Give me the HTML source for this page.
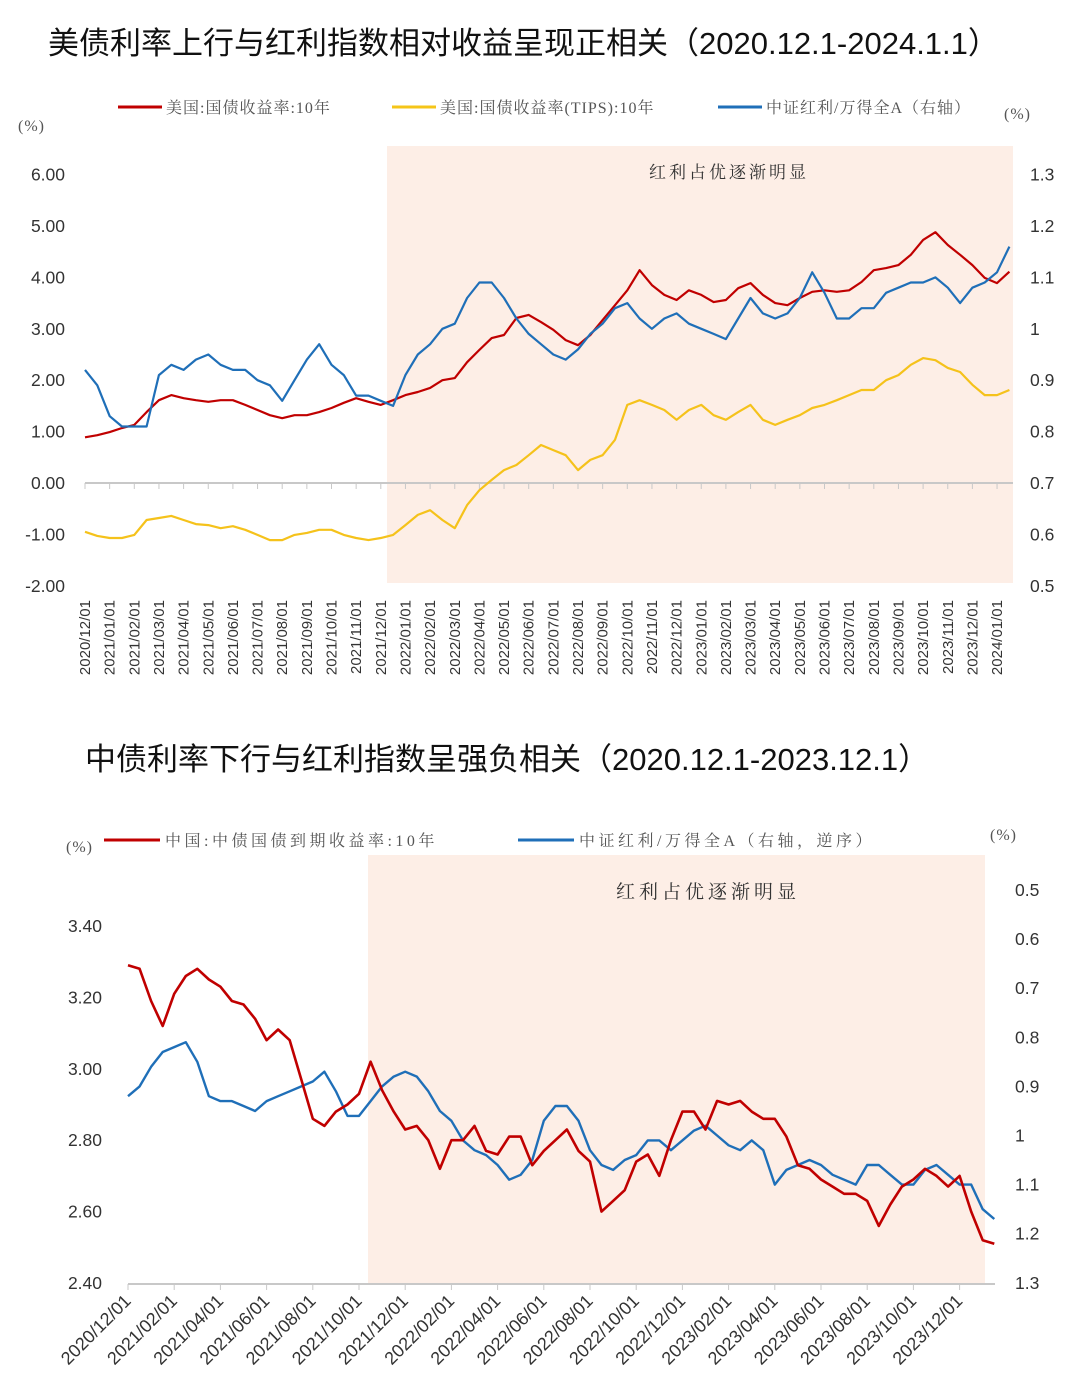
<!DOCTYPE html>
<html><head><meta charset="utf-8">
<style>
body{margin:0;background:#fff;}
svg{display:block;font-family:"Liberation Sans","Noto Sans CJK SC",sans-serif;}
.ax{font-size:17.5px;fill:#333;}
.lg{font-family:"Liberation Serif","Noto Serif CJK SC",serif;font-size:16px;fill:#555;letter-spacing:1px;}
.lg2{font-family:"Liberation Serif","Noto Serif CJK SC",serif;font-size:16px;fill:#555;letter-spacing:3.5px;}
.ann{font-family:"Liberation Serif","Noto Serif CJK SC",serif;font-size:17px;fill:#333;letter-spacing:3px;}
</style></head>
<body>
<svg id="s" width="1080" height="1388" viewBox="0 0 1080 1388">
<text x="48" y="54" font-size="31" fill="#111">美债利率上行与红利指数相对收益呈现正相关（2020.12.1-2024.1.1）</text>
<rect x="387" y="146" width="626" height="437" fill="#fdeee6"/>
<text x="729" y="178" text-anchor="middle" class="ann">红利占优逐渐明显</text>
<g>
<line x1="118" y1="107" x2="162" y2="107" stroke="#c00000" stroke-width="3"/>
<text x="166" y="113" class="lg">美国:国债收益率:10年</text>
<line x1="392" y1="107" x2="436" y2="107" stroke="#f5c518" stroke-width="3"/>
<text x="440" y="113" class="lg">美国:国债收益率(TIPS):10年</text>
<line x1="718" y1="107" x2="762" y2="107" stroke="#1f6fb8" stroke-width="3"/>
<text x="766" y="113" class="lg">中证红利/万得全A（右轴）</text>
</g>
<text x="18" y="131" class="lg">(%)</text>
<text x="1004" y="119" class="lg">(%)</text>
<g id="c1"></g>

<text x="85" y="770" font-size="31" fill="#111">中债利率下行与红利指数呈强负相关（2020.12.1-2023.12.1）</text>
<rect x="368" y="855" width="617" height="428" fill="#fdeee6"/>
<text x="708" y="898" text-anchor="middle" class="ann" font-size="19" style="font-size:19px;letter-spacing:4px">红利占优逐渐明显</text>
<g>
<text x="66" y="852" class="lg">(%)</text>
<line x1="104" y1="840" x2="160" y2="840" stroke="#c00000" stroke-width="3"/>
<text x="165" y="846" class="lg2">中国:中债国债到期收益率:10年</text>
<line x1="518" y1="840" x2="574" y2="840" stroke="#1f6fb8" stroke-width="3"/>
<text x="579" y="846" class="lg2">中证红利/万得全A（右轴，逆序）</text>
<text x="990" y="840" class="lg">(%)</text>
</g>
<g id="c2"></g>
</svg>
<script>
// ---- Chart 1 data (half-month steps from 2020/12/01) ----
const c1Months = ["2020/12/01","2021/01/01","2021/02/01","2021/03/01","2021/04/01","2021/05/01","2021/06/01","2021/07/01","2021/08/01","2021/09/01","2021/10/01","2021/11/01","2021/12/01","2022/01/01","2022/02/01","2022/03/01","2022/04/01","2022/05/01","2022/06/01","2022/07/01","2022/08/01","2022/09/01","2022/10/01","2022/11/01","2022/12/01","2023/01/01","2023/02/01","2023/03/01","2023/04/01","2023/05/01","2023/06/01","2023/07/01","2023/08/01","2023/09/01","2023/10/01","2023/11/01","2023/12/01","2024/01/01"];
const c1LeftTicks = ["6.00","5.00","4.00","3.00","2.00","1.00","0.00","-1.00","-2.00"];
const c1RightTicks = ["1.3","1.2","1.1","1","0.9","0.8","0.7","0.6","0.5"];
const usYield = [0.89,0.93,0.99,1.07,1.13,1.38,1.61,1.71,1.65,1.61,1.58,1.61,1.61,1.52,1.42,1.32,1.26,1.32,1.32,1.38,1.46,1.56,1.65,1.58,1.52,1.61,1.71,1.77,1.85,2.00,2.04,2.35,2.59,2.82,2.88,3.21,3.27,3.13,2.98,2.78,2.68,2.88,3.17,3.46,3.75,4.14,3.85,3.66,3.56,3.75,3.66,3.52,3.56,3.79,3.89,3.66,3.50,3.46,3.60,3.72,3.75,3.72,3.75,3.91,4.14,4.18,4.24,4.44,4.73,4.88,4.63,4.44,4.24,3.99,3.89,4.11];
const usTips = [-0.95,-1.03,-1.07,-1.07,-1.01,-0.72,-0.68,-0.64,-0.72,-0.80,-0.82,-0.88,-0.84,-0.91,-1.01,-1.11,-1.11,-1.01,-0.97,-0.91,-0.91,-1.01,-1.07,-1.11,-1.07,-1.01,-0.82,-0.62,-0.53,-0.72,-0.88,-0.43,-0.14,0.06,0.25,0.35,0.54,0.74,0.64,0.54,0.25,0.45,0.54,0.84,1.52,1.61,1.52,1.42,1.23,1.42,1.52,1.32,1.23,1.38,1.52,1.23,1.13,1.23,1.32,1.46,1.52,1.61,1.71,1.81,1.81,2.00,2.10,2.30,2.43,2.39,2.24,2.16,1.91,1.71,1.71,1.81];
const divRatio1 = [0.92,0.89,0.83,0.81,0.81,0.81,0.91,0.93,0.92,0.94,0.95,0.93,0.92,0.92,0.90,0.89,0.86,0.90,0.94,0.97,0.93,0.91,0.87,0.87,0.86,0.85,0.91,0.95,0.97,1.00,1.01,1.06,1.09,1.09,1.06,1.02,0.99,0.97,0.95,0.94,0.96,0.99,1.01,1.04,1.05,1.02,1.00,1.02,1.03,1.01,1.00,0.99,0.98,1.02,1.06,1.03,1.02,1.03,1.06,1.11,1.07,1.02,1.02,1.04,1.04,1.07,1.08,1.09,1.09,1.10,1.08,1.05,1.08,1.09,1.11,1.16];

// ---- Chart 2 data ----
const c2Months = ["2020/12/01","2021/02/01","2021/04/01","2021/06/01","2021/08/01","2021/10/01","2021/12/01","2022/02/01","2022/04/01","2022/06/01","2022/08/01","2022/10/01","2022/12/01","2023/02/01","2023/04/01","2023/06/01","2023/08/01","2023/10/01","2023/12/01"];
const c2LeftTicks = ["3.40","3.20","3.00","2.80","2.60","2.40"];
const c2RightTicks = ["0.5","0.6","0.7","0.8","0.9","1","1.1","1.2","1.3"];
const cnYield = [3.29,3.28,3.19,3.12,3.21,3.26,3.28,3.25,3.23,3.19,3.18,3.14,3.08,3.11,3.08,2.97,2.86,2.84,2.88,2.90,2.93,3.02,2.94,2.88,2.83,2.84,2.80,2.72,2.80,2.80,2.84,2.77,2.76,2.81,2.81,2.73,2.77,2.80,2.83,2.77,2.74,2.60,2.63,2.66,2.74,2.76,2.70,2.80,2.88,2.88,2.83,2.91,2.90,2.91,2.88,2.86,2.86,2.81,2.73,2.72,2.69,2.67,2.65,2.65,2.63,2.56,2.62,2.67,2.69,2.72,2.70,2.67,2.70,2.60,2.52,2.51];
const divRatio2 = [0.92,0.90,0.86,0.83,0.82,0.81,0.85,0.92,0.93,0.93,0.94,0.95,0.93,0.92,0.91,0.90,0.89,0.87,0.91,0.96,0.96,0.93,0.90,0.88,0.87,0.88,0.91,0.95,0.97,1.01,1.03,1.04,1.06,1.09,1.08,1.05,0.97,0.94,0.94,0.97,1.03,1.06,1.07,1.05,1.04,1.01,1.01,1.03,1.01,0.99,0.98,1.00,1.02,1.03,1.01,1.03,1.10,1.07,1.06,1.05,1.06,1.08,1.09,1.10,1.06,1.06,1.08,1.10,1.10,1.07,1.06,1.08,1.10,1.10,1.15,1.17];

const NS = "http://www.w3.org/2000/svg";
function mk(parent, tag, attrs){const e=document.createElementNS(NS,tag);for(const k in attrs)e.setAttribute(k,attrs[k]);parent.appendChild(e);return e;}

// Chart 1 scales
const x1 = m => 85 + m*24.65;
const yL1 = v => 483 - v*51.4;
const yR1 = v => 483 - (v-0.7)*514;
const g1 = document.getElementById('c1');
c1LeftTicks.forEach((t,i)=>{const v=parseFloat(t);const e=mk(g1,'text',{x:65,y:yL1(v)+6,'text-anchor':'end',class:'ax'});e.textContent=t;

});
c1RightTicks.forEach((t,i)=>{const v=parseFloat(t);const e=mk(g1,'text',{x:1030,y:yR1(v)+6,class:'ax'});e.textContent=t;

});
const ax1=mk(g1,'line',{x1:85,x2:1013,y1:yL1(0),y2:yL1(0),stroke:'#c8c8c8','stroke-width':2});


c1Months.forEach((t,i)=>{
 const tk=mk(g1,'line',{x1:x1(i),x2:x1(i),y1:483,y2:489,stroke:'#c8c8c8','stroke-width':1});
 
 
 const e=mk(g1,'text',{x:0,y:0,'text-anchor':'end','font-size':'15',fill:'#333',transform:`translate(${x1(i)+5},600) rotate(-90)`});
 e.textContent=t;
 
 
});
function line(g, arr, xf, yf, color, name, w){
 const d=arr.map((v,i)=>(i?'L':'M')+xf(i*0.5).toFixed(1)+','+yf(v).toFixed(1)).join('');
 const p=mk(g,'path',{d:d,fill:'none',stroke:color,'stroke-width':w||2.2,'stroke-linejoin':'round'});
 
 
}
line(g1, usTips, x1, yL1, '#f5c21b', 'line-us-tips');
line(g1, usYield, x1, yL1, '#c00000', 'line-us-10y');
line(g1, divRatio1, x1, yR1, '#1f6fb8', 'line-dividend-ratio');

// Chart 2 scales
const x2 = m => 128 + m*23.1;
const yL2 = v => 1283 - (v-2.4)*357;
const yR2 = v => 890 + (v-0.5)*491;
const g2 = document.getElementById('c2');
c2LeftTicks.forEach(t=>{const v=parseFloat(t);const e=mk(g2,'text',{x:102,y:yL2(v)+6,'text-anchor':'end',class:'ax'});e.textContent=t;

});
c2RightTicks.forEach(t=>{const v=parseFloat(t);const e=mk(g2,'text',{x:1015,y:yR2(v)+6,class:'ax'});e.textContent=t;

});
const ax2=mk(g2,'line',{x1:128,x2:995,y1:1284,y2:1284,stroke:'#c8c8c8','stroke-width':2});


c2Months.forEach((t,i)=>{
 const xx=x2(i*2);
 const tk=mk(g2,'line',{x1:xx,x2:xx,y1:1284,y2:1290,stroke:'#c8c8c8','stroke-width':1});
 
 
 const e=mk(g2,'text',{x:0,y:0,'text-anchor':'end','font-size':'18',fill:'#333',transform:`translate(${xx+4},1302) rotate(-45)`});
 e.textContent=t;
 
 
});
line(g2, divRatio2, x2, yR2, '#1f6fb8', 'line-dividend-ratio-inverted', 2.4);
line(g2, cnYield, x2, yL2, '#c00000', 'line-cn-10y', 2.6);
</script>
</body></html>
